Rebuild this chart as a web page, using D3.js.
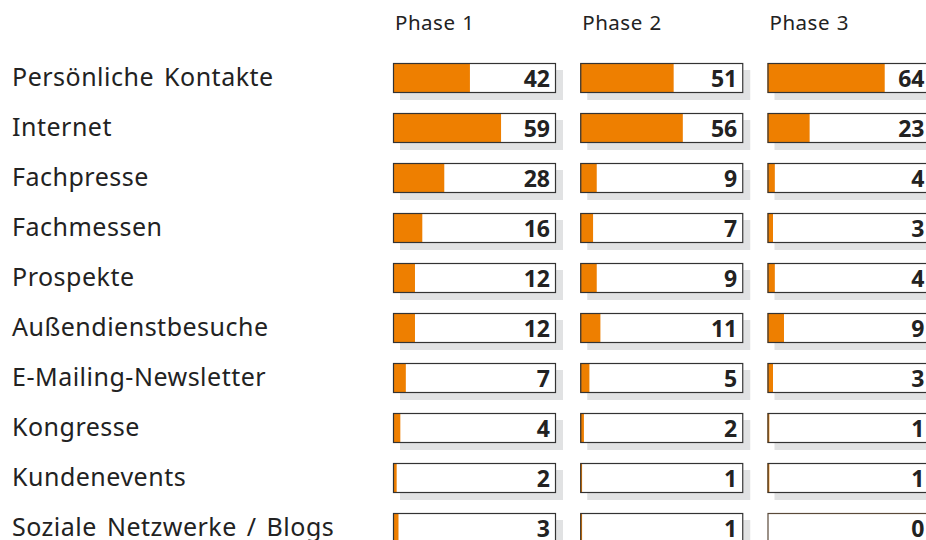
<!DOCTYPE html>
<html>
<head>
<meta charset="utf-8">
<script src="https://cdn.jsdelivr.net/npm/d3@7"></script>
<style>
  body { margin: 0; background: #fff; }
  svg { display: block; }
</style>
</head>
<body>
<script>
let categories = ['Persönliche Kontakte', 'Internet', 'Fachpresse', 'Fachmessen', 'Prospekte',
  'Außendienstbesuche', 'E-Mailing-Newsletter', 'Kongresse', 'Kundenevents', 'Soziale Netzwerke / Blogs'];
let phases = ['Phase 1', 'Phase 2', 'Phase 3'];
let phase1 = [42, 59, 28, 16, 12, 12, 7, 4, 2, 3];
let phase2 = [51, 56, 9, 7, 9, 11, 5, 2, 1, 1];
let phase3 = [64, 23, 4, 3, 4, 9, 3, 1, 1, 0];
let series = [phase1, phase2, phase3];

let w = 926, h = 540;
let boxW = 163, boxH = 30; // box size in px
let font = '"Noto Sans", sans-serif';

let svg = d3.select('body').append('svg')
  .attr('width', w)
  .attr('height', h);

// step 50, band 30
let y = d3.scaleBand()
  .domain(categories)
  .range([63, 543])
  .paddingInner(0.4)
  .paddingOuter(0)
  .align(0);

let xPhase = d3.scalePoint()
  .domain(phases)
  .range([393, 767.5]);

let v = d3.scaleLinear()
  .domain([0, 89])
  .range([0, boxW]);

// row labels
svg.selectAll('text.cat')
  .data(categories)
  .enter()
  .append('text')
  .attr('class', 'cat')
  .attr('x', 12)
  .attr('y', d => y(d) + 23)
  .style('font-family', font)
  .style('font-size', '25px')
  .style('letter-spacing', '0.5px')
  .style('word-spacing', '3px')
  .style('fill', '#222')
  .text(d => d);

// phase headers
svg.selectAll('text.phase')
  .data(phases)
  .enter()
  .append('text')
  .attr('class', 'phase')
  .attr('x', d => xPhase(d) + 2)
  .attr('y', 30)
  .style('font-family', font)
  .style('font-size', '20.5px')
  .style('letter-spacing', '0.5px')
  .style('word-spacing', '1px')
  .style('fill', '#222')
  .text(d => d);

series.forEach((vals, p) => {
  let x0 = xPhase(phases[p]);
  let g = svg.append('g').attr('transform', 'translate(' + x0 + ',0)');

  let rows = g.selectAll('g.row')
    .data(vals)
    .enter()
    .append('g')
    .attr('class', 'row')
    .attr('transform', (d, i) => 'translate(0,' + y(categories[i]) + ')');

  // shadow
  rows.append('rect')
    .attr('x', 7)
    .attr('y', 7)
    .attr('width', boxW)
    .attr('height', boxH)
    .style('fill', '#e1e2e3');

  // white box
  rows.append('rect')
    .attr('width', boxW)
    .attr('height', boxH)
    .style('fill', '#fff');

  // orange bar
  rows.append('rect')
    .attr('width', d => v(d))
    .attr('height', boxH)
    .style('fill', '#ee7f00');

  // border
  rows.append('rect')
    .attr('x', 0.5)
    .attr('y', 0.5)
    .attr('width', boxW - 1)
    .attr('height', boxH - 1)
    .style('fill', 'none')
    .style('stroke', d => d === 0 ? '#5a4a3a' : '#333')
    .style('stroke-width', 1.2);

  // value
  rows.append('text')
    .attr('x', boxW - 6)
    .attr('y', 24)
    .attr('text-anchor', 'end')
    .style('font-family', font)
    .style('font-size', '23px')
    .style('font-weight', 'bold')
    .style('fill', '#222')
    .text(d => d);
});
</script>
</body>
</html>
